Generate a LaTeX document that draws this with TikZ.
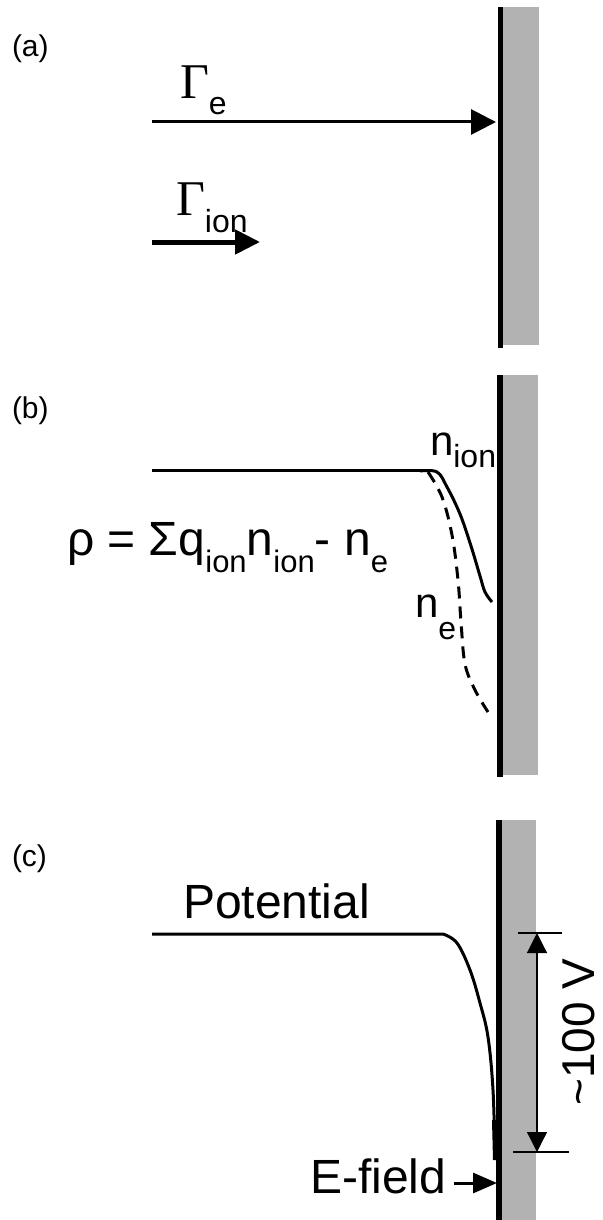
\documentclass[tikz,border=0pt]{standalone}
\usepackage{fontspec}
\setmainfont{Liberation Sans}
\newfontfamily\greekserif{Liberation Serif}
\usetikzlibrary{arrows.meta}

\definecolor{wallgray}{RGB}{178,178,178}

\newcommand{\bigtxt}{\fontsize{24}{28}\selectfont}
\newcommand{\lowsub}[2]{\raisebox{-#1}{\fontsize{15.5}{15.5}\selectfont #2}}

\tikzset{
  lbl/.style={anchor=base west, inner sep=0pt, outer sep=0pt},
  wallbar/.style={fill=wallgray, draw=none},
  wallline/.style={line width=2.7pt},
  curve/.style={line width=1.5pt, line join=round},
}

\begin{document}
\begin{tikzpicture}[x=0.5pt, y=-0.5pt]
\useasboundingbox (0,0) rectangle (603,1220);

% (a) fluxes to the wall

\fill[wallbar] (502,7) rectangle (539,345);
\draw[wallline] (500.5,7) -- (500.5,348);
\node[lbl, font=\fontsize{15}{17}\selectfont] (labA) at (12,57) {(a)};

\coordinate (gEfrom) at (152,122);
\coordinate (gEto) at (496,122);
\draw[line width=1.5pt, -{Triangle[length=12.5pt, width=12.5pt]}] (gEfrom) -- (gEto);
\node[lbl] (gammaE) at (180,98)
  {{\greekserif\fontsize{25}{25}\selectfont Γ}\raisebox{-8.5pt}{\fontsize{16}{16}\selectfont e}};

\coordinate (gIfrom) at (152,242);
\coordinate (gIto) at (260,242);
\draw[line width=2.5pt, -{Triangle[length=12.5pt, width=12pt]}] (gIfrom) -- (gIto);
\node[lbl] (gammaI) at (176,215)
  {{\greekserif\fontsize{25}{25}\selectfont Γ}\raisebox{-8.5pt}{\fontsize{16}{16}\selectfont ion}};


% (b) densities and charge

\fill[wallbar] (502,375) rectangle (538,775);
\draw[wallline] (500,375) -- (500,777);
\node[lbl, font=\fontsize{15}{17}\selectfont] (labB) at (12,418) {(b)};

\draw[line width=1.75pt] (152,470.5) -- (425,470.5);
% ion density
\draw[curve] plot[smooth, tension=0.6] coordinates
  {(420,471) (437,472) (447,487) (460,514) (471,546) (480,576) (485,592) (492,602)};
% electron density
\draw[curve, dash pattern=on 6pt off 4pt] plot[smooth, tension=0.6] coordinates
  {(428,472) (442,497) (452,535) (458,580) (461,622) (465,664) (475,690) (488,712)};

\node[lbl] (nIon) at (430,455)
  {\fontsize{21}{21}\selectfont n\raisebox{-6pt}{\fontsize{16}{16}\selectfont ion}};
\node[lbl] (nE) at (415,617)
  {\fontsize{21}{21}\selectfont n\raisebox{-11pt}{\fontsize{16}{16}\selectfont e}};

\node[lbl] (rho) at (67,555)
  {\bigtxt ρ = Σq\lowsub{8.5pt}{ion}n\lowsub{8.5pt}{ion}- n\lowsub{8.5pt}{e}};


% (c) potential drop at the wall

\fill[wallbar] (501,820) rectangle (536,1220);
\draw[wallline] (499,820) -- (499,1220);
\node[lbl, font=\fontsize{15}{17}\selectfont] (labC) at (12,866) {(c)};

\node[lbl] (pot) at (183,918) {\bigtxt Potential};
\draw[curve] (152,934) -- (443,934)
  plot[smooth, tension=0.6] coordinates
  {(443,934) (457,943) (470,970) (480,1003) (488,1037) (493,1090) (495,1157)};
\draw[line width=2.5pt] (494.5,1120) -- (495.5,1160);

% drop of about 100 V
\coordinate (tickTop) at (537,933);
\coordinate (tickBot) at (537,1152);
\draw[line width=0.6pt] (518,933) -- (562,933);
\draw[line width=0.6pt] (513,1152) -- (569,1152);
\draw[line width=0.6pt, {Triangle[length=10pt, width=10pt]}-{Triangle[length=10pt, width=10pt]}] (tickTop) -- (tickBot);
\node[rotate=90, anchor=base, inner sep=0pt, font=\fontsize{23}{26}\selectfont] (drop) at (594,1032) {\textasciitilde100 V};

\node[lbl] (efield) at (310,1193) {\bigtxt E-field};
\coordinate (eTo) at (497,1183);
\draw[line width=1.5pt, -{Triangle[length=12pt, width=10pt]}] (efield.east |- eTo) ++(8,0) -- (eTo);

\end{tikzpicture}
\end{document}
